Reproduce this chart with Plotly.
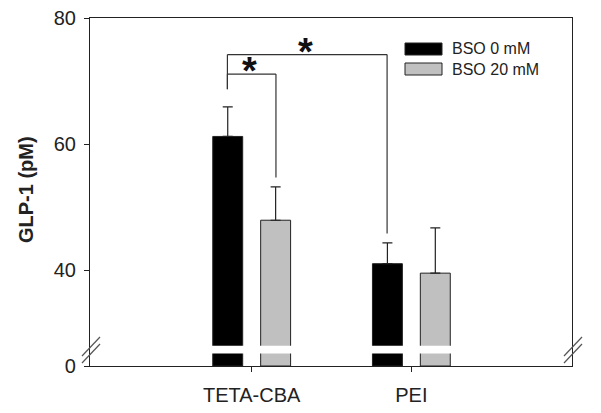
import plotly.graph_objects as go

# ---------------- data ----------------
categories = ["TETA-CBA", "PEI"]
series_names = ["BSO 0 mM", "BSO 20 mM"]
bso0_values = [61.2, 41.0]
bso0_errors = [4.7, 3.3]
bso20_values = [47.9, 39.5]
bso20_errors = [5.3, 7.2]
ytick_values = [40, 60, 80]
ytick_labels = ["40", "60", "80"]
zero_label = "0"
sig_label = "*"

# ---------------- styling / layout constants ----------------
OFF = 8                      # page body margin
W, H = 601 - OFF, 413 - OFF
# target plot area in window pixels: x 90..572, y 18..366
ML, MT = 90 - OFF, 18 - OFF
MR, MB = W - (572 - OFF), H - (366 - OFF)
PW, PH = W - ML - MR, H - MT - MB
Y_TOP = 80
PX_PER_UNIT = 126 / 20.0
AXIS_ZERO = 40 - 96 / PX_PER_UNIT        # where the displayed "0" sits on the broken axis
BREAK_LO, BREAK_HI = AXIS_ZERO + 2.0, AXIS_ZERO + 3.2
X_RANGE = [-1.0125, 2.006]
BAR_OFF = 0.152
BAR_W = 0.1875
colors = ["#000000", "#c0c0c0"]
line_col = "#333333"
FONT = "Arial, Liberation Sans, sans-serif"

fig = go.Figure()
vals = [bso0_values, bso20_values]
errs = [bso0_errors, bso20_errors]
for i, name in enumerate(series_names):
    fig.add_trace(go.Bar(
        x=categories, y=[v - AXIS_ZERO for v in vals[i]], base=AXIS_ZERO,
        name=name, marker=dict(color=colors[i], line=dict(color="#222222", width=1)),
        error_y=dict(type="data", symmetric=False, array=errs[i], arrayminus=[0] * len(errs[i]),
                     color="#222222", thickness=1.2, width=5),
        showlegend=False,
    ))

shapes = []
for i in range(len(series_names)):
    off = -BAR_OFF if i == 0 else BAR_OFF
    for c in range(len(categories)):
        shapes.append(dict(type="rect", xref="x", yref="y",
                           x0=c + off - BAR_W / 2 - 0.01, x1=c + off + BAR_W / 2 + 0.01,
                           y0=BREAK_LO, y1=BREAK_HI, fillcolor="white", line=dict(width=0), layer="above"))

def px2paper(px, py):
    # window pixel -> paper coords
    return (px - OFF - ML) / PW, (H - MB - (py - OFF)) / PH

for axx in (90, 572):
    for dy in (0, 7):
        x0, y0 = px2paper(axx - 8, 363 - dy)
        x1, y1 = px2paper(axx + 10, 344 - dy)
        shapes.append(dict(type="line", xref="paper", yref="paper", x0=x0, y0=y0, x1=x1, y1=y1,
                           line=dict(color="#555555", width=1.2)))

def bar_x(cat_idx, series_idx):
    return cat_idx + (-BAR_OFF if series_idx == 0 else BAR_OFF)

def bar_top(cat_idx, series_idx):
    return vals[series_idx][cat_idx] + errs[series_idx][cat_idx]

comparisons = [((0, 0), (0, 1), 71.1), ((0, 0), (1, 0), 74.2)]
left_stub_end = 68.7
ann = []
for (a, b, level) in comparisons:
    xa, xb = bar_x(*a), bar_x(*b)
    shapes.append(dict(type="line", xref="x", yref="y", x0=xa, x1=xb, y0=level, y1=level,
                       line=dict(color=line_col, width=1.2)))
    shapes.append(dict(type="line", xref="x", yref="y", x0=xa, x1=xa, y0=level, y1=left_stub_end,
                       line=dict(color=line_col, width=1.2)))
    shapes.append(dict(type="line", xref="x", yref="y", x0=xb, x1=xb, y0=level, y1=bar_top(*b) + 1.5,
                       line=dict(color=line_col, width=1.2)))
    ann.append(dict(x=(xa + xb) / 2, y=level, xref="x", yref="y", text="<b>" + sig_label + "</b>",
                    showarrow=False, yanchor="middle", yshift=3, xshift=-2,
                    font=dict(size=38, family=FONT, color="#111111")))

for i, name in enumerate(series_names):
    top = 43 + 20 * i
    x0, y0 = px2paper(405, top + 12)
    x1, y1 = px2paper(442, top)
    shapes.append(dict(type="rect", xref="paper", yref="paper", x0=x0, x1=x1, y0=y0, y1=y1,
                       fillcolor=colors[i], line=dict(color="#222222", width=1)))
    tx, ty = px2paper(450, top + 6)
    ann.append(dict(x=tx, y=ty, xref="paper", yref="paper", text=name, showarrow=False,
                    xanchor="left", yanchor="middle", font=dict(size=16, family=FONT, color="#222222")))

tx, ty = px2paper(26, 190)
ann.append(dict(x=tx, y=ty, xref="paper", yref="paper", text="<b>GLP-1 (pM)</b>", textangle=-90,
                showarrow=False, xanchor="center", yanchor="middle",
                font=dict(size=20, family=FONT, color="#222222")))

fig.update_layout(
    width=W, height=H, margin=dict(l=ML, r=MR, t=MT, b=MB, autoexpand=False),
    paper_bgcolor="white", plot_bgcolor="white",
    barmode="group", bargap=0.4, bargroupgap=0.375,
    shapes=shapes, annotations=ann, showlegend=False,
    font=dict(family=FONT, color="#222222"),
)
fig.update_xaxes(range=X_RANGE, showline=True, mirror=True, linecolor="#222222", linewidth=1.2,
                 ticks="outside", ticklen=5, tickcolor="#222222", showgrid=False, zeroline=False,
                 automargin=False, ticklabeloverflow="allow",
                 tickfont=dict(size=20, family=FONT, color="#222222"), ticklabelstandoff=6)
fig.update_yaxes(range=[AXIS_ZERO, Y_TOP], showline=True, mirror=True, linecolor="#222222", linewidth=1.2,
                 ticks="outside", ticklen=5, tickcolor="#222222", showgrid=False, zeroline=False,
                 automargin=False, ticklabeloverflow="allow",
                 tickvals=[AXIS_ZERO] + ytick_values, ticktext=[zero_label] + ytick_labels,
                 tickfont=dict(size=20, family=FONT, color="#222222"), ticklabelstandoff=4)

fig.write_html("out.html")
